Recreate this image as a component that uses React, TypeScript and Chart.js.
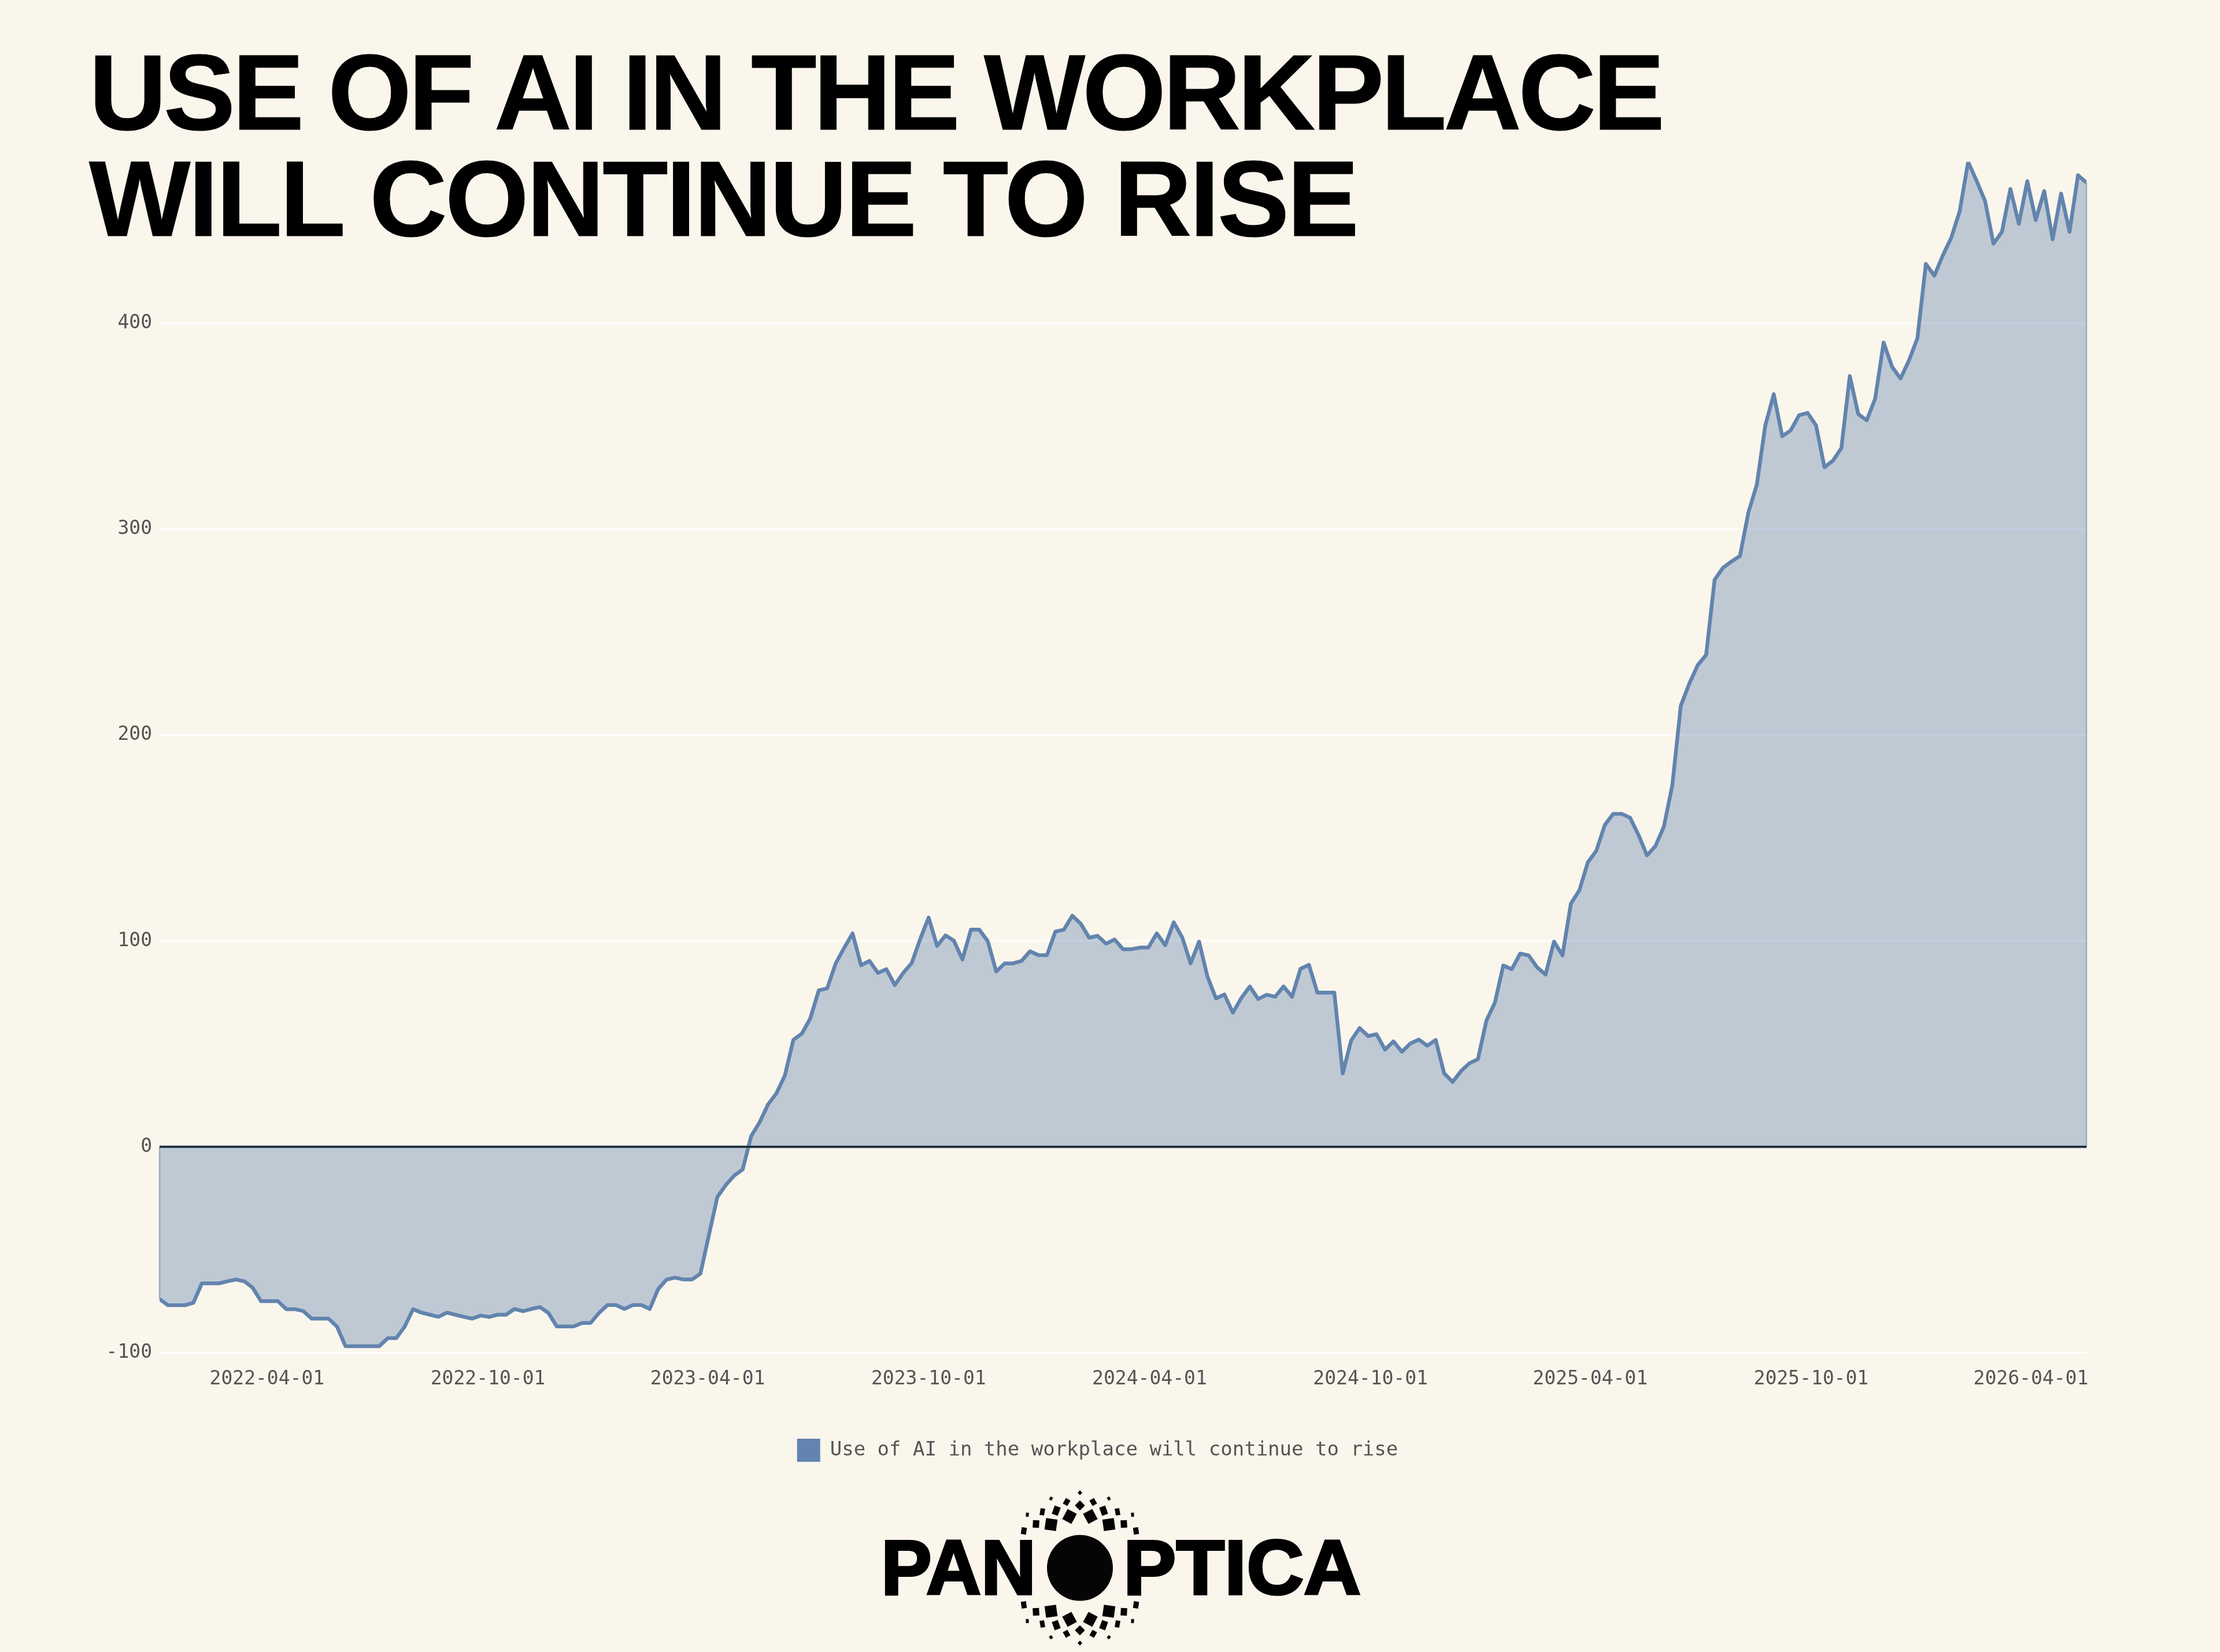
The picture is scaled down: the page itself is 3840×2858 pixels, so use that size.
import React, { useEffect, useRef } from "react";
import { Chart, registerables } from "chart.js";

Chart.register(...registerables);

const seriesLabel = "Use of AI in the workplace will continue to rise";
const titleLines = ["USE OF AI IN THE WORKPLACE", "WILL CONTINUE TO RISE"];
const firstWeek = "2022-01-02";
const xTickLabels = ["2022-04-01", "2022-10-01", "2023-04-01", "2023-10-01", "2024-04-01", "2024-10-01", "2025-04-01", "2025-10-01", "2026-04-01"];
const yTickValues = [-100, 0, 100, 200, 300, 400];

const weeklyValues = [
  -74, -77, -77, -77, -75.8, -66.4, -66.4, -66.4, -65.4, -64.5, -65.3, -68.4, -75, -75, -75, -78.9, -78.9, -79.8, -83.5, -83.5,
  -83.5, -87.4, -96.9, -96.9, -96.9, -96.9, -96.9, -93, -93, -87.4, -78.9, -80.6, -81.6, -82.6, -80.6, -81.6, -82.6, -83.5, -82, -82.7,
  -81.6, -81.6, -78.8, -79.9, -78.8, -77.9, -80.7, -87.3, -87.3, -87.3, -85.6, -85.6, -80.7, -76.9, -76.9, -78.8, -76.9, -76.9, -78.8, -69.1,
  -64.5, -63.6, -64.5, -64.5, -61.6, -42.9, -24.4, -18.6, -14, -11, 5.2, 11.9, 20.6, 26, 34.8, 52, 55, 62.4, 76, 77,
  89.1, 96.6, 103.7, 88.2, 90.3, 84.5, 86.3, 78.6, 84.5, 89.3, 100.9, 111.4, 97.6, 102.7, 100.1, 91, 105.5, 105.5, 99.9, 85.2,
  89.1, 89.1, 90.3, 95, 93.1, 93.1, 104.6, 105.5, 112.3, 108.4, 101.6, 102.5, 98.7, 100.7, 96, 96, 96.8, 96.8, 103.7, 97.9,
  109.1, 101.8, 89.1, 99.7, 82.6, 72.1, 74, 65.2, 72.3, 77.9, 71.8, 73.9, 72.9, 77.9, 72.9, 86.5, 88.4, 74.9, 74.9, 74.9,
  35.7, 51.7, 57.7, 53.8, 54.7, 47.2, 51.2, 46.2, 50.2, 52.1, 49.1, 51.9, 35.7, 31.5, 36.8, 40.6, 42.6, 61.3, 70, 88.1,
  86.3, 93.9, 93, 87.2, 83.7, 99.7, 93, 118.2, 124.6, 138.2, 143.8, 156.3, 161.8, 161.8, 159.9, 151.5, 141.6, 146.1, 155.6, 175.7,
  214.3, 225, 234, 239, 275.5, 281.4, 284.4, 287.1, 308.2, 321.8, 350.5, 365.7, 345.3, 348.1, 355.5, 356.6, 350.6, 330.2, 333.4, 339.5,
  374.5, 356, 353, 363.5, 390.8, 379, 373.3, 382.1, 392.9, 429, 423.3, 433.1, 441.7, 454.6, 478.6, 469.4, 459.6, 438.8, 444.6, 465.4,
  448.5, 469.2, 450.3, 464.4, 441, 463.2, 444.6, 472.1, 468.5,
];

const WEEK_MS = 7 * 24 * 3600 * 1000;
const weekStamps = weeklyValues.map((_, i) => Date.parse(firstWeek) + i * WEEK_MS);

const PAGE = "#fbf6ec";
const LINE = "#6284ae";
const FILL = "rgba(98,132,174,0.39)";
const TEXT = "#555555";
const MONO = '"DejaVu Sans Mono", monospace';

// top-left quarter of the logo's sunburst: offset from centre, width, height, tilt
const burst = [
  [0, -130, 5.5, 5.5, 45], [0, -108, 12, 12, 45], [-50, -120, 5, 6, 30], [-23, -114, 9, 11, 30],
  [-41, -99, 11, 15, 20], [-18, -89, 18, 20, 28], [-65, -97, 8, 12, 10], [-91, -92, 5, 7, 5],
  [-50, -75, 20, 20, 8], [-76, -76, 11, 13, 3], [-97, -64, 9, 12, 8],
];

const areaEdges = {
  id: "areaEdges",
  afterDatasetsDraw(chart: any) {
    const { ctx, scales } = chart;
    const x0 = scales.x.getPixelForValue(weekStamps[0]);
    const x1 = scales.x.getPixelForValue(weekStamps[weekStamps.length - 1]);
    const zero = scales.y.getPixelForValue(0);
    ctx.save();
    ctx.strokeStyle = "rgba(98,132,174,0.55)";
    ctx.lineWidth = 2.5;
    ctx.beginPath();
    ctx.moveTo(x0, scales.y.getPixelForValue(weeklyValues[0]));
    ctx.lineTo(x0, zero);
    ctx.moveTo(x1, zero);
    ctx.lineTo(x1, scales.y.getPixelForValue(weeklyValues[weeklyValues.length - 1]));
    ctx.stroke();
    ctx.strokeStyle = "rgba(98,132,174,0.8)";
    ctx.lineWidth = 5;
    ctx.beginPath();
    ctx.moveTo(x0, zero);
    ctx.lineTo(x1, zero);
    ctx.stroke();
    ctx.strokeStyle = "#111111";
    ctx.lineWidth = 2.5;
    ctx.beginPath();
    ctx.moveTo(x0, zero);
    ctx.lineTo(x1, zero);
    ctx.stroke();
    ctx.restore();
  },
};

export default function App() {
  const ref = useRef<HTMLCanvasElement>(null);

  useEffect(() => {
    document.body.style.margin = "0";
    document.body.style.background = PAGE;
    const chart = new Chart(ref.current!, {
      type: "line",
      data: {
        datasets: [
          {
            label: seriesLabel,
            data: weeklyValues.map((y, i) => ({ x: weekStamps[i], y })),
            borderColor: LINE,
            backgroundColor: FILL,
            borderWidth: 6.5,
            borderJoinStyle: "round",
            pointRadius: 0,
            tension: 0,
            fill: "origin",
          },
        ],
      },
      plugins: [areaEdges],
      options: {
        animation: false,
        responsive: false,
        devicePixelRatio: 1,
        layout: { padding: { left: 188, right: 231, top: 280, bottom: 319 } },
        plugins: {
          tooltip: { enabled: false },
          title: { display: false },
          legend: {
            position: "bottom",
            labels: {
              boxWidth: 40,
              boxHeight: 40,
              padding: 0,
              color: TEXT,
              font: { family: MONO, size: 34 },
              generateLabels: () => [
                { text: seriesLabel, fillStyle: LINE, strokeStyle: LINE, lineWidth: 0, datasetIndex: 0, fontColor: TEXT },
              ],
            },
          },
        },
        scales: {
          x: {
            type: "linear",
            min: weekStamps[0],
            max: weekStamps[weekStamps.length - 1],
            afterBuildTicks: (axis: any) => {
              axis.ticks = xTickLabels.map((d) => ({ value: Date.parse(d) }));
            },
            afterFit: (axis: any) => {
              axis.height = 149;
            },
            grid: { display: false },
            border: { display: false },
            ticks: {
              autoSkip: false,
              maxRotation: 0,
              padding: 19,
              color: TEXT,
              font: { family: MONO, size: 33 },
              callback: (v: any) => new Date(v).toISOString().slice(0, 10),
            },
          },
          y: {
            type: "linear",
            min: -100,
            max: 478.6,
            afterBuildTicks: (axis: any) => {
              axis.ticks = yTickValues.map((value) => ({ value }));
            },
            afterFit: (axis: any) => {
              axis.width = 88;
            },
            grid: { color: "#ffffff", lineWidth: 3, drawTicks: false },
            border: { display: false },
            ticks: {
              padding: 13,
              color: TEXT,
              font: { family: MONO, size: 33 },
              callback: (v: any) => String(v),
            },
          },
        },
      },
    } as any);
    return () => chart.destroy();
  }, []);

  const cx = 1868;
  const cy = 2712.5;
  const titleStyle = {
    position: "absolute",
    left: 154,
    fontFamily: '"Liberation Sans", Arial, sans-serif',
    fontWeight: 700,
    fontSize: 186,
    lineHeight: "184px",
    color: "#000",
    whiteSpace: "pre",
    WebkitTextStroke: "1px #000",
  } as any;
  return (
    <div style={{ position: "relative", width: 3840, height: 2858, background: PAGE, overflow: "hidden" }}>
      <canvas ref={ref} width={3840} height={2858} style={{ position: "absolute", left: 0, top: 0, width: 3840, height: 2858 }} />
      <div style={{ ...titleStyle, top: 68, letterSpacing: -5.2 }}>{titleLines[0]}</div>
      <div style={{ ...titleStyle, top: 252, letterSpacing: -3.5 }}>{titleLines[1]}</div>
      <svg width={3840} height={2858} style={{ position: "absolute", left: 0, top: 0 }}>
        <text fontFamily='"Liberation Sans", Arial, sans-serif' fontWeight={700} fontSize={134} fill="#000" stroke="#000" strokeWidth={4} y={2758}>
          <tspan x={1524} textLength={268} lengthAdjust="spacingAndGlyphs">PAN</tspan>
          <tspan x={1815} fontSize={120}>O</tspan>
          <tspan x={1943} textLength={411} lengthAdjust="spacingAndGlyphs">PTICA</tspan>
        </text>
        <ellipse cx={cx} cy={cy} rx={57} ry={57} fill="#050505" />
        {[1, -1].flatMap((sx) =>
          [1, -1].flatMap((sy) =>
            burst.map(([dx, dy, w, h, a], i) => (
              <rect
                key={`${sx}${sy}${i}`}
                x={-w / 2}
                y={-h / 2}
                width={w}
                height={h}
                fill="#050505"
                transform={`translate(${cx},${cy}) scale(${sx},${sy}) translate(${dx},${dy}) rotate(${a})`}
              />
            ))
          )
        )}
      </svg>
    </div>
  );
}
